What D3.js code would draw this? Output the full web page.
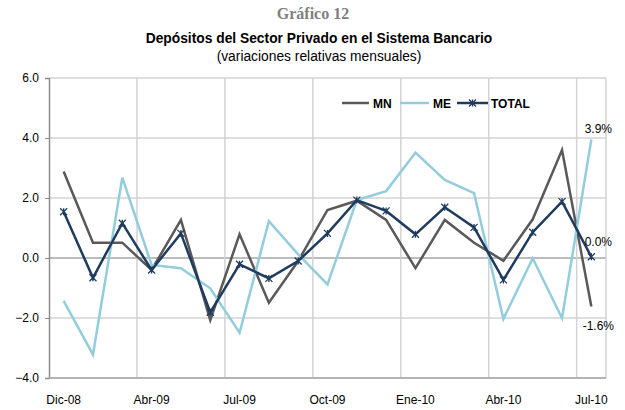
<!DOCTYPE html>
<html>
<head>
<meta charset="utf-8">
<script src="https://cdn.jsdelivr.net/npm/d3@7"></script>
<style>
  body { margin: 0; background: #fff; }
  svg { font-family: "Liberation Sans", Arial, sans-serif; }
</style>
</head>
<body>
<script>
// months shown on the category axis (every third one labelled)
var months = ["Dic-08","Feb-09","Mar-09","Abr-09","May-09","Jun-09","Jul-09","Ago-09","Sep-09",
              "Oct-09","Nov-09","Dic-09","Ene-10","Feb-10","Mar-10","Abr-10","May-10","Jun-10","Jul-10"];
var mn    = [2.88, 0.51, 0.51, -0.40, 1.27, -2.07, 0.79, -1.49, -0.10, 1.60, 1.91, 1.27, -0.34, 1.27, 0.51, -0.09, 1.29, 3.60, -1.62];
var me    = [-1.43, -3.22, 2.68, -0.23, -0.34, -1.01, -2.49, 1.23, 0.12, -0.88, 1.93, 2.23, 3.51, 2.60, 2.16, -2.03, -0.01, -2.01, 3.95];
var total = [1.54, -0.66, 1.16, -0.40, 0.82, -1.81, -0.21, -0.68, -0.10, 0.82, 1.93, 1.57, 0.79, 1.69, 1.02, -0.73, 0.86, 1.88, 0.04];
var yTicks = [-4, -2, 0, 2, 4, 6];
var shownMonths = ["Dic-08","Abr-09","Jul-09","Oct-09","Ene-10","Abr-10","Jul-10"];
var endLabels = ["-1.6%", "3.9%", "0.0%"]; // mn, me, total

var width = 625, height = 410;
var svg = d3.select("body").append("svg")
    .attr("width", width)
    .attr("height", height);

var x = d3.scaleBand().domain(months).range([49, 606]);
var y = d3.scaleLinear().domain([-4, 6]).range([378, 78]);
var cx = function(i) { return x(months[i]) + x.bandwidth() / 2; };

// titles
svg.append("text").attr("x", 313).attr("y", 19).attr("text-anchor", "middle")
  .style("font-family", "'Liberation Serif', 'Times New Roman', serif")
  .style("font-weight", "bold").style("font-size", "16px").attr("fill", "#808080")
  .text("Gráfico 12");
svg.append("text").attr("x", 319).attr("y", 43).attr("text-anchor", "middle")
  .style("font-weight", "bold").style("font-size", "13.8px").attr("fill", "#000")
  .text("Depósitos del Sector Privado en el Sistema Bancario");
svg.append("text").attr("x", 319).attr("y", 61).attr("text-anchor", "middle")
  .style("font-size", "13.8px").attr("fill", "#000")
  .text("(variaciones relativas mensuales)");

// horizontal grid
svg.append("g").selectAll("line").data(yTicks).enter().append("line")
  .attr("x1", 49).attr("x2", 606)
  .attr("y1", function(d) { return y(d); }).attr("y2", function(d) { return y(d); })
  .attr("stroke", function(d) { return d === 0 ? "#a6a6a6" : "#d3d3d3"; })
  .attr("stroke-width", 1.5);

// vertical grid every 3 months + right edge
var vIdx = [3, 6, 9, 12, 15, 18];
svg.append("g").selectAll("line").data(vIdx).enter().append("line")
  .attr("x1", function(i) { return x(months[i]); }).attr("x2", function(i) { return x(months[i]); })
  .attr("y1", y(6)).attr("y2", y(-4))
  .attr("stroke", "#d3d3d3").attr("stroke-width", 1.5);
svg.append("line").attr("x1", 606).attr("x2", 606).attr("y1", y(6)).attr("y2", y(-4))
  .attr("stroke", "#d3d3d3").attr("stroke-width", 1.5);

// y axis
var yAxis = d3.axisLeft(y).tickValues(yTicks).tickSize(4).tickFormat(d3.format(".1f"));
var yg = svg.append("g").attr("transform", "translate(49,0)").call(yAxis);
yg.select(".domain").attr("stroke", "#8c8c8c").attr("stroke-width", 1.5);
yg.selectAll(".tick line").attr("stroke", "#8c8c8c");
yg.selectAll("text").style("font-size", "12px").attr("fill", "#000")
  .style("font-family", "'Liberation Sans', Arial, sans-serif").attr("x", -10);

// bottom axis line
svg.append("line").attr("x1", 49).attr("x2", 606).attr("y1", y(-4)).attr("y2", y(-4))
  .attr("stroke", "#a6a6a6").attr("stroke-width", 1.5);

// x labels
svg.append("g").selectAll("text").data(shownMonths).enter().append("text")
  .attr("x", function(d) { return x(d) + x.bandwidth() / 2; })
  .attr("y", 404).attr("text-anchor", "middle")
  .style("font-size", "12px").attr("fill", "#000")
  .text(function(d) { return d; });

// lines
var line = d3.line().x(function(d, i) { return cx(i); }).y(function(d) { return y(d); });
var series = [
  { name: "MN", data: mn, color: "#595959" },
  { name: "ME", data: me, color: "#93cddd" },
  { name: "TOTAL", data: total, color: "#1f3b5e" }
];
series.forEach(function(s) {
  svg.append("path").datum(s.data).attr("d", line)
    .attr("fill", "none").attr("stroke", s.color).attr("stroke-width", 2.5)
    .attr("stroke-linejoin", "miter");
});

// star markers on TOTAL
function star(g, px, py, col) {
  var r = 3.5;
  g.append("path")
    .attr("d", "M" + (px - r) + "," + (py - r) + "L" + (px + r) + "," + (py + r) +
               "M" + (px - r) + "," + (py + r) + "L" + (px + r) + "," + (py - r) +
               "M" + px + "," + (py - r) + "L" + px + "," + (py + r))
    .attr("stroke", col).attr("stroke-width", 1.3).attr("fill", "none");
}
var mk = svg.append("g");
total.forEach(function(v, i) { star(mk, cx(i), y(v), "#1f3b5e"); });

// end labels
var last = months.length - 1;
svg.append("text").attr("x", cx(last) + 7).attr("y", y(mn[last]) + 23).attr("text-anchor", "middle")
  .style("font-size", "12px").text(endLabels[0]);
svg.append("text").attr("x", cx(last) + 7).attr("y", y(me[last]) - 7).attr("text-anchor", "middle")
  .style("font-size", "12px").text(endLabels[1]);
svg.append("text").attr("x", cx(last) + 7).attr("y", y(total[last]) - 11).attr("text-anchor", "middle")
  .style("font-size", "12px").text(endLabels[2]);

// legend
var lg = svg.append("g").attr("transform", "translate(0,103)");
var legendItems = [
  { s: series[0], x1: 342, x2: 369, tx: 373 },
  { s: series[1], x1: 400, x2: 429, tx: 433 },
  { s: series[2], x1: 457, x2: 488, tx: 491 }
];
legendItems.forEach(function(it) {
  lg.append("line").attr("x1", it.x1).attr("x2", it.x2).attr("y1", 0).attr("y2", 0)
    .attr("stroke", it.s.color).attr("stroke-width", 2.5);
  lg.append("text").attr("x", it.tx).attr("y", 4.5)
    .style("font-size", "12px").style("font-weight", "bold").text(it.s.name);
});
star(lg, (457 + 488) / 2, 0, "#1f3b5e");
</script>
</body>
</html>
